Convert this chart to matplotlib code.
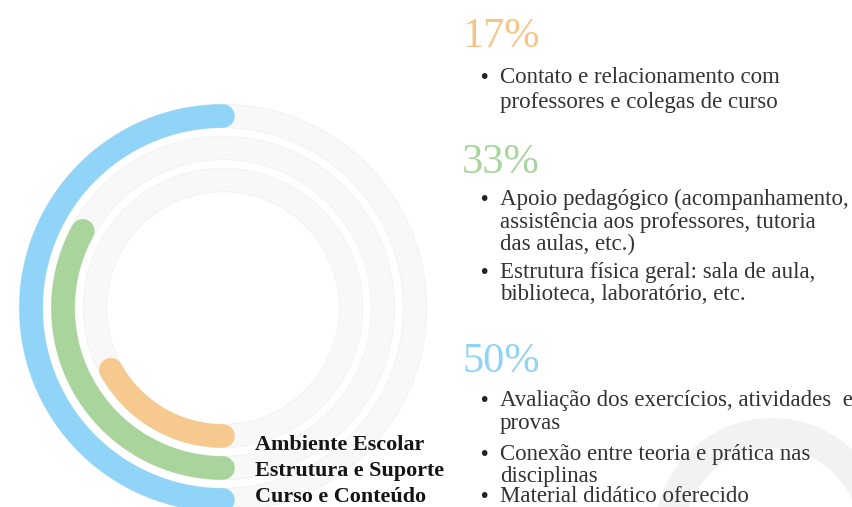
import numpy as np
import matplotlib
matplotlib.use("Agg")
import matplotlib.pyplot as plt
from matplotlib.patches import Wedge

# ---------------- data ----------------
categories = ["Curso e Conteúdo", "Estrutura e Suporte", "Ambiente Escolar"]
values = [50, 33, 17]
colors = ["#90D4F7", "#A9D49C", "#F6CA8E"]

pct_labels = ["17%", "33%", "50%"]
pct_values = [17, 33, 50]
blocks = [
    [["Contato e relacionamento com", "professores e colegas de curso"]],
    [["Apoio pedagógico (acompanhamento,", "assistência aos professores, tutoria", "das aulas, etc.)"],
     ["Estrutura física geral: sala de aula,", "biblioteca, laboratório, etc."]],
    [["Avaliação dos exercícios, atividades  e", "provas"],
     ["Conexão entre teoria e prática nas", "disciplinas"],
     ["Material didático oferecido"]],
]
pct_colors = ["#F6C58A", "#A8D59E", "#8FD3F7"]

# ---------------- figure ----------------
W, H = 853, 507
fig = plt.figure(figsize=(W / 100, H / 100), dpi=100)
fig.patch.set_facecolor("white")

def fx(x):
    return x / W

def fy(y):
    return 1 - y / H

# decorative faint arc lower right
deco = fig.add_axes([0, 0, 1, 1])
deco.set_xlim(0, W)
deco.set_ylim(H, 0)
deco.axis("off")
deco.add_patch(Wedge((772, 536), 118, 180, 360, width=30, facecolor="#F2F2F2",
                     edgecolor="none"))

# polar radial bars
cx, cy, R = 223, 308, 230
pax = fig.add_axes([fx(cx - R), fy(cy + R), 2 * R / W, 2 * R / H], projection="polar")
pax.set_theta_zero_location("S")
pax.set_theta_direction(-1)
pax.set_ylim(0, R)
pax.axis("off")
pax.patch.set_alpha(0)

radii = [192, 160, 128]
lw = 17
full = np.linspace(0, 2 * np.pi, 400)
for r in radii:
    pax.plot(full, np.full_like(full, r), color="#F8F8F8", lw=lw, solid_capstyle="butt", zorder=1)
    for dr in (-lw * 0.69, lw * 0.69):
        pax.plot(full, np.full_like(full, r + dr), color="#F1F1F1", lw=0.6, zorder=1)
for r, v, c in zip(radii, values, colors):
    th = np.linspace(0, v / 100 * 2 * np.pi, 300)
    pax.plot(th, np.full_like(th, r), color=c, lw=lw, solid_capstyle="round", zorder=3)

# category labels
label_baselines = [502, 476, 450]
for cat, yb in zip(categories, label_baselines):
    fig.text(fx(255), fy(yb), cat, fontsize=15.9, fontweight="bold",
             family="Liberation Serif", color="#151515", va="baseline", ha="left")

# percentage headers and bullet blocks
pct_baselines = [47, 173, 372]
line_baselines = [
    [[83, 108]],
    [[205, 228, 250], [278, 300]],
    [[406, 429], [460, 482], [502]],
]
for lab, c, yb, blk, ybs in zip(pct_labels, pct_colors, pct_baselines, blocks, line_baselines):
    fig.text(fx(462), fy(yb), lab, fontsize=30.5, family="Liberation Serif",
             color=c, va="baseline", ha="left")
    for item, ys in zip(blk, ybs):
        fig.text(fx(478), fy(ys[0]), "•", fontsize=14, family="DejaVu Sans",
                 color="#222222", va="baseline", ha="left")
        for line, y in zip(item, ys):
            fig.text(fx(500), fy(y), line, fontsize=16.5, family="Liberation Serif",
                     color="#333333", va="baseline", ha="left")

fig.savefig("out.png", dpi=100, facecolor="white")
